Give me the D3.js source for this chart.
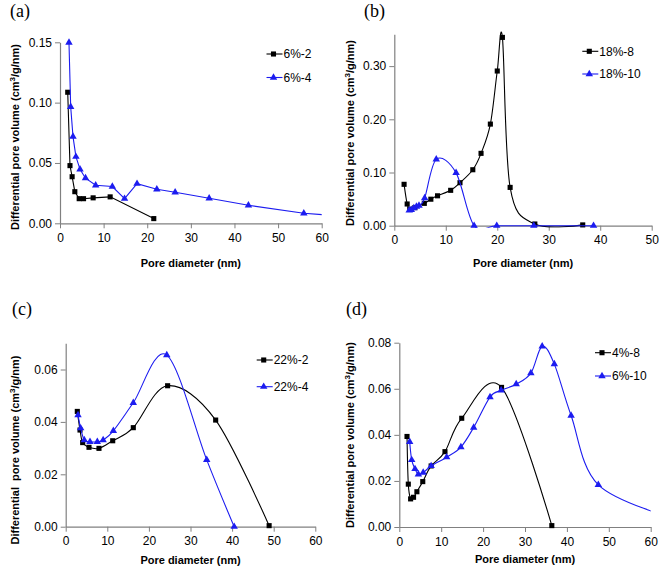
<!DOCTYPE html>
<html><head><meta charset="utf-8">
<script src="https://cdn.jsdelivr.net/npm/d3@7"></script>
<style>body{margin:0;background:#fff}svg{display:block}</style>
</head><body>
<svg id="c" width="661" height="571"></svg>
<script>
// Panel (a)
const a_s1_name = "6%-2";
const a_s1_x = [1.77, 2.29, 2.78, 3.4, 4.4, 5.4, 7.6, 11.5, 21.5];
const a_s1_y = [0.1086, 0.0478, 0.0386, 0.0262, 0.0204, 0.0204, 0.0211, 0.0219, 0.0039];
const a_s2_name = "6%-4";
const a_s2_x = [2.06, 2.45, 2.98, 3.65, 4.59, 5.85, 8.18, 12.0, 14.8, 17.66, 22.2, 26.4, 34.2, 43.2, 55.9, 70];
const a_s2_y = [0.1497, 0.0966, 0.0718, 0.0552, 0.0447, 0.0374, 0.0315, 0.0305, 0.0204, 0.0328, 0.0282, 0.0257, 0.0207, 0.0149, 0.0083, 0.0046];
const a_xticks = [0, 10, 20, 30, 40, 50, 60];
const a_yticks = [0, 0.05, 0.10, 0.15];

// Panel (b)
const b_s1_name = "18%-8";
const b_s1_x = [1.9, 2.5, 3.0, 4.0, 5.83, 7.1, 8.4, 10.95, 12.76, 15.25, 16.85, 18.66, 20.0, 21.0, 22.5, 27.3, 36.6];
const b_s1_y = [0.0778, 0.0408, 0.031, 0.034, 0.042, 0.0498, 0.0562, 0.0665, 0.0808, 0.1052, 0.136, 0.191, 0.2908, 0.354, 0.072, 0.0032, 0.0015];
const b_s2_name = "18%-10";
const b_s2_x = [2.9, 3.3, 3.8, 4.3, 4.8, 5.9, 8.15, 12.0, 15.5, 19.9, 27.1, 38.7];
const b_s2_y = [0.029, 0.030, 0.033, 0.036, 0.038, 0.052, 0.1248, 0.0993, 0.0, 0.0, 0.0, 0.0];
const b_xticks = [0, 10, 20, 30, 40, 50];
const b_yticks = [0, 0.10, 0.20, 0.30];

// Panel (c)
const c_s1_name = "22%-2";
const c_s1_x = [2.79, 3.44, 4.08, 5.6, 8.0, 11.3, 16.25, 24.5, 36.05, 48.9];
const c_s1_y = [0.044, 0.0369, 0.0321, 0.0303, 0.0299, 0.0328, 0.0378, 0.0538, 0.0407, 0.0004];
const c_s2_name = "22%-4";
const c_s2_x = [2.96, 3.6, 4.47, 5.84, 7.6, 9.0, 11.45, 16.25, 24.3, 33.9, 40.5];
const c_s2_y = [0.0426, 0.0376, 0.0331, 0.0324, 0.0324, 0.0331, 0.0366, 0.0473, 0.0655, 0.0255, 0.0];
const c_xticks = [0, 10, 20, 30, 40, 50, 60];
const c_yticks = [0, 0.02, 0.04, 0.06];

// Panel (d)
const d_s1_name = "4%-8";
const d_s1_x = [1.84, 2.15, 2.7, 3.4, 4.2, 5.6, 7.6, 10.9, 14.9, 24.4, 36.4];
const d_s1_y = [0.0393, 0.0186, 0.0122, 0.0129, 0.0153, 0.0197, 0.0265, 0.0327, 0.0472, 0.0606, 0.0006];
const d_s2_name = "6%-10";
const d_s2_x = [2.48, 2.96, 3.75, 4.55, 5.7, 7.6, 11.3, 14.7, 17.75, 21.65, 24.3, 27.9, 31.4, 34.1, 37.0, 41.0, 47.5, 66];
const d_s2_y = [0.037, 0.0291, 0.0252, 0.0229, 0.0236, 0.0265, 0.0303, 0.0347, 0.0432, 0.0564, 0.0593, 0.062, 0.0668, 0.0784, 0.0707, 0.0484, 0.0183, 0.0035];
const d_xticks = [0, 10, 20, 30, 40, 50, 60];
const d_yticks = [0, 0.02, 0.04, 0.06, 0.08];

const svg = d3.select("#c");
const AXC = "#808080";
const BLUE = "#1c1cf0";
const FONT = "Liberation Sans, Arial, sans-serif";

function zip(xs, ys){ return xs.map((x,i)=>({x:x, y:ys[i]})); }

function panel(cfg){
  const g = svg.append("g");
  const x = d3.scaleLinear().domain(cfg.xdom).range([cfg.L, cfg.R]);
  const y = d3.scaleLinear().domain(cfg.ydom).range([cfg.B, cfg.T]);
  const id = "clip" + cfg.label.replace(/\W/g,"");
  svg.append("clipPath").attr("id", id).append("rect")
    .attr("x", cfg.L).attr("y", cfg.T - 10).attr("width", cfg.R - cfg.L).attr("height", cfg.B - cfg.T + 12);

  // axes
  const xa = g.append("g").attr("transform", `translate(0,${cfg.B})`)
    .call(d3.axisBottom(x).tickValues(cfg.xticks).tickFormat(d3.format("d")).tickSize(5).tickSizeOuter(0));
  const ya = g.append("g").attr("transform", `translate(${cfg.L},0)`)
    .call(d3.axisLeft(y).tickValues(cfg.yticks).tickFormat(d3.format(cfg.yfmt)).tickSize(5).tickSizeOuter(0));
  [xa, ya].forEach(ax => {
    ax.select(".domain").attr("stroke", AXC).attr("stroke-width", 1.2);
    ax.selectAll(".tick line").attr("stroke", AXC);
    ax.selectAll(".tick text").attr("fill", "#000").style("font-family", FONT).style("font-size", "12px");
  });
  xa.selectAll(".tick text").attr("y", 10).attr("dy", "0.71em");
  ya.selectAll(".tick text").attr("x", -8);

  const curve = cfg.smooth ? d3.curveCardinal.tension(0) : d3.curveLinear;
  const line = d3.line().x(d=>x(d.x)).y(d=>y(d.y)).curve(curve);
  const sq = d3.symbol().type(d3.symbolSquare).size(26);
  const tri = d3.symbol().type(d3.symbolTriangle).size(24);

  cfg.series.forEach((s, i) => {
    const col = i === 0 ? "#000" : BLUE;
    const data = zip(s.x, s.y);
    g.append("path").datum(data).attr("clip-path", `url(#${id})`)
      .attr("fill", "none").attr("stroke", col).attr("stroke-width", 1.1).attr("d", line);
    g.selectAll(null).data(data.filter(d => d.x <= cfg.xdom[1])).enter().append("path")
      .attr("transform", d => `translate(${x(d.x)},${y(d.y)})`)
      .attr("d", i === 0 ? sq : tri).attr("fill", col);
    // legend
    const ly = cfg.legY + i * cfg.legDy;
    g.append("line").attr("x1", cfg.legX).attr("x2", cfg.legX + 16).attr("y1", ly).attr("y2", ly)
      .attr("stroke", col).attr("stroke-width", 1.1);
    g.append("path").attr("transform", `translate(${cfg.legX + 7},${ly})`).attr("d", i === 0 ? sq : tri).attr("fill", col);
    g.append("text").attr("x", cfg.legX + 17).attr("y", ly).attr("dy", "0.36em")
      .style("font-family", FONT).style("font-size", "12px").text(s.name);
  });

  // titles
  g.append("text").attr("x", (cfg.L + cfg.R) / 2).attr("y", cfg.xtY).attr("text-anchor", "middle")
    .style("font-family", FONT).style("font-size", "11px").style("font-weight", "bold").text("Pore diameter (nm)");
  const yt = g.append("text").attr("transform", `translate(${cfg.ytX},${cfg.ytC}) rotate(-90)`)
    .attr("text-anchor", "middle").style("font-family", FONT).style("font-size", "11px").style("font-weight", "bold")
    .style("white-space", "pre");
  yt.append("tspan").text(cfg.ytPre + " volume (cm");
  yt.append("tspan").attr("dy", -4).style("font-size", "8px").text("3");
  yt.append("tspan").attr("dy", 4).text("/g/nm)");
  // panel label
  g.append("text").attr("x", cfg.plX).attr("y", cfg.plY)
    .style("font-family", "Liberation Serif, Times New Roman, serif").style("font-size", "18px").text(cfg.label);
}

panel({label:"(a)", plX:10, plY:17, L:60, R:321.7, T:42.3, B:223.3, xdom:[0,60], ydom:[0,0.15],
  xticks:a_xticks, yticks:a_yticks, yfmt:".2f", smooth:false,
  series:[{name:a_s1_name, x:a_s1_x, y:a_s1_y},{name:a_s2_name, x:a_s2_x, y:a_s2_y}],
  legX:266.5, legY:54, legDy:23.5, xtY:267, ytX:19, ytC:137, ytPre:"Differential pore"});
panel({label:"(b)", plX:364, plY:17, L:394.3, R:651.7, T:34.2, B:225.7, xdom:[0,50], ydom:[0,0.36],
  xticks:b_xticks, yticks:b_yticks, yfmt:".2f", smooth:true,
  series:[{name:b_s1_name, x:b_s1_x, y:b_s1_y},{name:b_s2_name, x:b_s2_x, y:b_s2_y}],
  legX:582.3, legY:51.3, legDy:22.7, xtY:267, ytX:354, ytC:133, ytPre:"Differential pore"});
panel({label:"(c)", plX:12, plY:315, L:65.7, R:315.3, T:343.3, B:526.7, xdom:[0,60], ydom:[0,0.07],
  xticks:c_xticks, yticks:c_yticks, yfmt:".2f", smooth:true,
  series:[{name:c_s1_name, x:c_s1_x, y:c_s1_y},{name:c_s2_name, x:c_s2_x, y:c_s2_y}],
  legX:256.7, legY:360, legDy:26.7, xtY:564, ytX:19, ytC:450, ytPre:"Differential  pore"});
panel({label:"(d)", plX:346, plY:315, L:399.3, R:650.7, T:342.7, B:527, xdom:[0,60], ydom:[0,0.08],
  xticks:d_xticks, yticks:d_yticks, yfmt:".2f", smooth:true,
  series:[{name:d_s1_name, x:d_s1_x, y:d_s1_y},{name:d_s2_name, x:d_s2_x, y:d_s2_y}],
  legX:595, legY:352.7, legDy:23.3, xtY:563, ytX:354, ytC:435, ytPre:"Differential pore"});
</script>
</body></html>
